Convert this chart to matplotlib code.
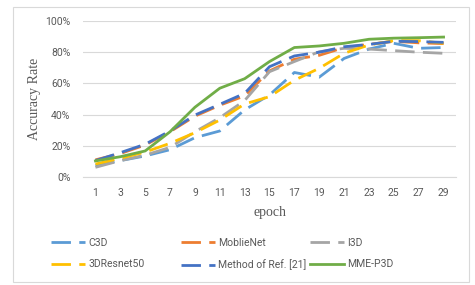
import matplotlib
matplotlib.use("Agg")
import matplotlib.pyplot as plt
from matplotlib.patches import Rectangle

epochs = [1, 3, 5, 7, 9, 11, 13, 15, 17, 19, 21, 23, 25, 27, 29]
c3d = [7.3, 10.5, 13.5, 17.5, 25.2, 29.5, 43.0, 52.6, 67.0, 64.0, 76.0, 82.0, 85.7, 82.5, 83.0]
mobilenet = [11.0, 15.0, 20.5, 29.0, 39.0, 46.0, 52.0, 68.0, 75.5, 78.0, 83.0, 85.0, 87.0, 86.0, 85.5]
i3d = [6.2, 10.5, 14.0, 19.0, 29.0, 38.0, 49.0, 67.5, 74.0, 80.3, 82.5, 82.0, 81.0, 80.0, 79.3]
resnet50 = [8.3, 12.0, 16.0, 21.6, 28.4, 36.5, 46.8, 51.5, 62.0, 69.7, 79.3, 84.6, 87.4, 87.4, 85.7]
ref21 = [10.5, 15.6, 21.0, 29.5, 39.7, 46.6, 53.6, 70.7, 77.6, 80.0, 83.5, 85.0, 87.0, 86.8, 86.3]
mme = [10.3, 13.0, 16.7, 29.0, 44.7, 56.9, 63.0, 74.0, 83.0, 84.0, 85.7, 88.3, 89.0, 89.3, 89.7]

names = ["C3D", "MoblieNet", "I3D", "3DResnet50", "Method of Ref. [21]", "MME-P3D"]
series = [c3d, mobilenet, i3d, resnet50, ref21, mme]
colors = ["#5B9BD5", "#ED7D31", "#A5A5A5", "#FFC000", "#4472C4", "#70AD47"]
dashed = [True, True, True, True, True, False]

plt.rcParams["font.family"] = ["Roboto", "DejaVu Sans"]

fig = plt.figure(figsize=(4.75, 2.85), dpi=100)
fig.patches.append(Rectangle((13/475, 1-282/285), (469-13)/475, (282-7)/285,
                             transform=fig.transFigure, fill=False,
                             edgecolor="#D9D9D9", linewidth=0.8))
ax = fig.add_axes([83/475, 1-177/285, (456-83)/475, (177-21)/285])

x = list(range(len(epochs)))
handles = []
for name, vals, col, d in zip(names, series, colors, dashed):
    yv = [v / 100 for v in vals]
    if d:
        h, = ax.plot(x, yv, color=col, linewidth=2.0, dashes=(7, 3), label=name,
                     dash_capstyle="butt")
    else:
        h, = ax.plot(x, yv, color=col, linewidth=2.0, label=name)
    handles.append(h)

ax.set_xlim(-0.5, len(epochs) - 0.5)
ax.set_ylim(0, 1.0)
ax.set_yticks([0, 0.2, 0.4, 0.6, 0.8, 1.0])
ax.set_yticklabels(["0%", "20%", "40%", "60%", "80%", "100%"])
ax.set_xticks(x)
ax.set_xticklabels([str(e) for e in epochs])
ax.tick_params(axis="both", length=0, labelsize=7.5, labelcolor="#595959")
ax.tick_params(axis="x", pad=8)
ax.tick_params(axis="y", pad=9)
ax.grid(axis="y", color="#D9D9D9", linewidth=0.8)
ax.set_axisbelow(True)
for s in ["top", "right", "left"]:
    ax.spines[s].set_visible(False)
ax.spines["bottom"].set_color("#D9D9D9")
ax.spines["bottom"].set_linewidth(0.8)

ax.set_xlabel("epoch", family="Liberation Serif", fontsize=10, color="#595959", labelpad=6)
ax.set_ylabel("Accuracy Rate", family="Liberation Serif", fontsize=10, color="#595959", labelpad=3)

# Three legend columns with equal pitch, entries row-wise as in the reference
col_x = [51, 181, 310]
for c in range(3):
    idx = [c, c + 3]
    leg = fig.legend([handles[i] for i in idx], [names[i] for i in idx],
                     loc="upper left", bbox_to_anchor=(col_x[c]/475, 1-238/285),
                     frameon=False, fontsize=7.5, handlelength=3.3, handletextpad=0.3,
                     labelspacing=1.1, borderpad=0, borderaxespad=0)
    for t in leg.get_texts():
        t.set_color("#595959")

fig.savefig("out.png", dpi=100)
